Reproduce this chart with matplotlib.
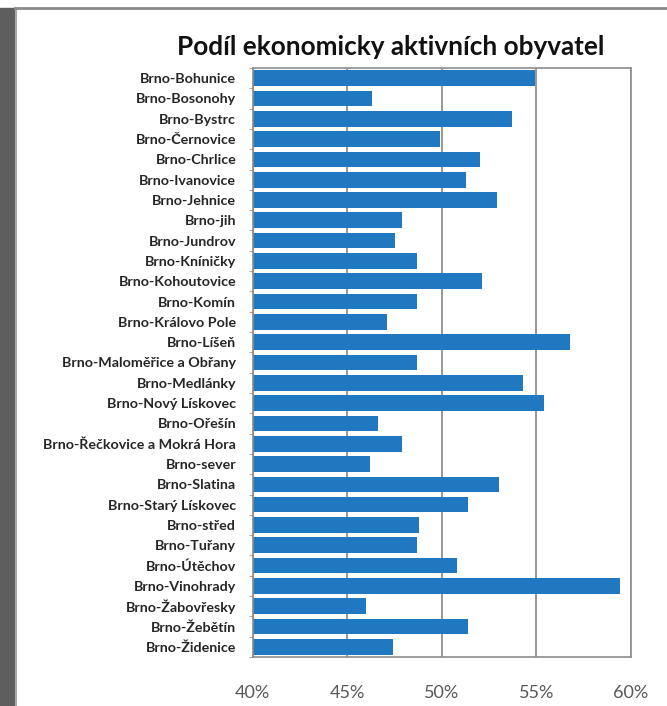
import matplotlib
matplotlib.use("Agg")
import matplotlib.pyplot as plt
import numpy as np
from matplotlib.lines import Line2D
from matplotlib.patches import Rectangle

# districts of Brno, top to bottom as in the chart
districts = [
    "Brno-Bohunice", "Brno-Bosonohy", "Brno-Bystrc", "Brno-Černovice",
    "Brno-Chrlice", "Brno-Ivanovice", "Brno-Jehnice", "Brno-jih",
    "Brno-Jundrov", "Brno-Kníničky", "Brno-Kohoutovice", "Brno-Komín",
    "Brno-Královo Pole", "Brno-Líšeň", "Brno-Maloměřice a Obřany",
    "Brno-Medlánky", "Brno-Nový Lískovec", "Brno-Ořešín",
    "Brno-Řečkovice a Mokrá Hora", "Brno-sever", "Brno-Slatina",
    "Brno-Starý Lískovec", "Brno-střed", "Brno-Tuřany", "Brno-Útěchov",
    "Brno-Vinohrady", "Brno-Žabovřesky", "Brno-Žebětín", "Brno-Židenice",
]
# share of economically active inhabitants (fraction)
share = [
    0.549, 0.463, 0.537, 0.499, 0.520, 0.513, 0.529, 0.479, 0.475, 0.487,
    0.521, 0.487, 0.471, 0.568, 0.487, 0.543, 0.554, 0.466, 0.479, 0.462,
    0.530, 0.514, 0.488, 0.487, 0.508, 0.594, 0.460, 0.514, 0.474,
]
x_ticks = [0.40, 0.45, 0.50, 0.55, 0.60]
x_ticklabels = ["40%", "45%", "50%", "55%", "60%"]
title = "Podíl ekonomicky aktivních obyvatel"

plt.rcParams['font.family'] = ['Lato', 'DejaVu Sans']

fig = plt.figure(figsize=(6.67, 7.06), dpi=100)
ax = fig.add_axes([0.379, 0.0694, 0.567, 0.8343])

n = len(districts)
y = np.arange(n)
ax.barh(y, share, height=0.77, color='#1f78c0', zorder=2)
ax.set_ylim(n - 0.5, -0.5)
ax.set_xlim(0.40, 0.60)

ax.set_yticks(y)
ax.set_yticklabels(districts, fontsize=10.3, fontweight='bold', color='#262626')
ax.set_yticks(np.arange(n + 1) - 0.5, minor=True)
ax.tick_params(axis='y', which='major', length=0, pad=12)
ax.tick_params(axis='y', which='minor', length=3, color='#c8a090', width=0.8)

ax.set_xticks(x_ticks)
ax.set_xticklabels(x_ticklabels, fontsize=13, color='#595959')
ax.tick_params(axis='x', length=0, pad=20)

ax.grid(True, axis='x', color='#868686', linewidth=1.2, zorder=1)
for s in ax.spines.values():
    s.set_color('#8c8c8c')
    s.set_linewidth(1.2)

fig.text(0.585, 0.933, title, ha='center', va='center',
         fontsize=18.8, fontweight='bold', color='#111111')

# outer frame of the screenshot
fig.patches.append(Rectangle((0, 0), 15 / 667, 1 - 8 / 706,
                             transform=fig.transFigure,
                             color='#5e5e5e', zorder=0))
fig.lines.append(Line2D([16 / 667, 16 / 667], [0, 1 - 8 / 706],
                        transform=fig.transFigure, color='#a8a8a8', lw=1.5))
fig.lines.append(Line2D([15 / 667, 1], [1 - 8 / 706, 1 - 8 / 706],
                        transform=fig.transFigure, color='#8a8a8a', lw=2))

fig.savefig("out.png", dpi=100)
